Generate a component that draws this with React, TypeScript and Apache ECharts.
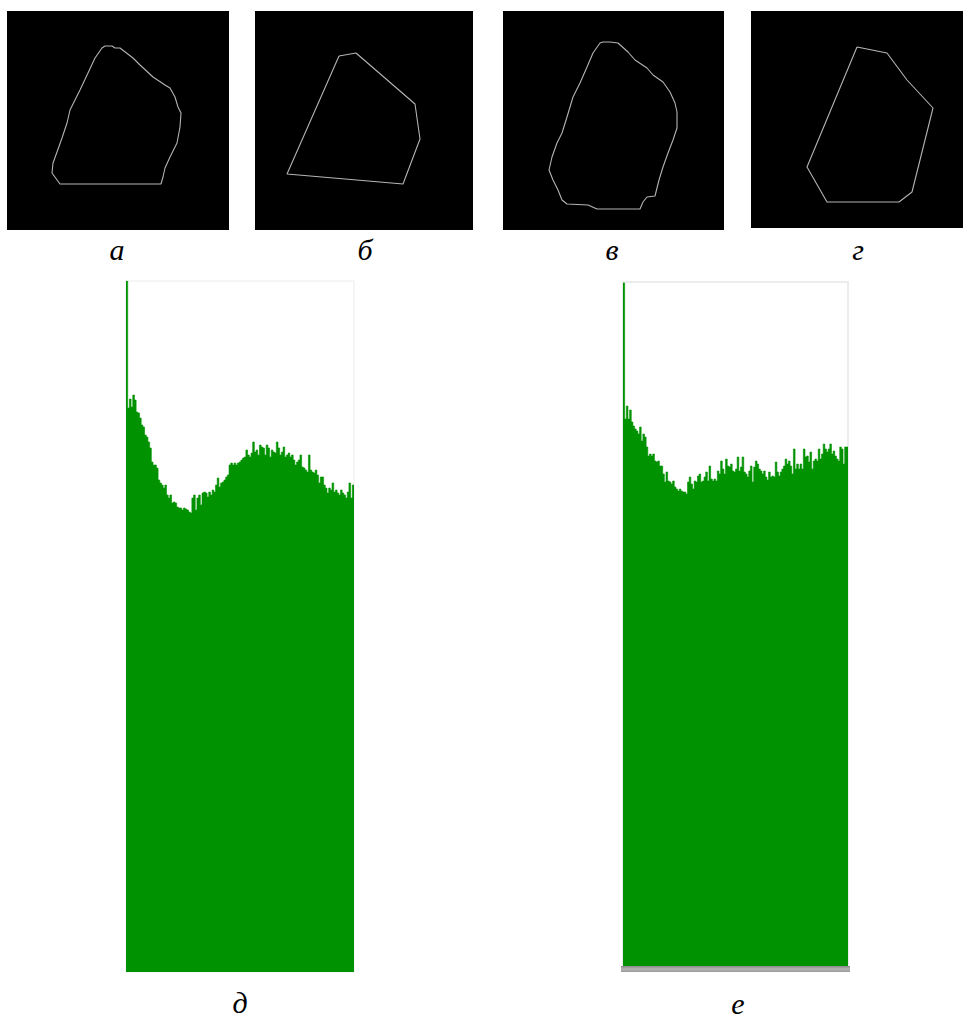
import React, { useEffect, useRef } from "react";
import * as echarts from "echarts";

// Contours (panel-local pixel coordinates)
const contourA = [[98,35],[105,35],[108,37],[113,37],[126,47],[133,54],[146,66],[158,74],[163,77],[168,86],[171,96],[174,102],[173,116],[170,132],[163,146],[158,157],[156,166],[154,173],[53,173],[45,162],[46,152],[50,141],[55,127],[60,112],[63,99],[73,79],[81,62],[88,47],[95,37],[98,35]];
const contourB = [[84,45],[101,42],[160,93],[165,128],[148,173],[32,163],[84,45]];
const contourV = [[100,31],[107,31],[115,32],[125,41],[132,49],[144,57],[150,64],[160,71],[167,81],[172,92],[174,101],[174,117],[170,129],[165,142],[160,156],[156,169],[152,185],[144,186],[140,191],[137,198],[94,198],[85,194],[64,193],[59,189],[55,179],[50,169],[46,159],[49,146],[54,132],[59,122],[64,106],[70,86],[77,72],[84,56],[90,42],[97,32],[100,31]];
const contourG = [[106,36],[136,42],[156,69],[182,97],[161,181],[148,191],[76,191],[56,156],[106,36]];

const panelLabels = ["а", "б", "в", "г"];
const histLabels = ["д", "е"];

// Histogram д (bin heights)
const histD = [691,
564,573,565,577,572,560,559,554,547,545,537,535,530,524,510,507,507,504,492,489,487,484,487,477,474,477,469,470,469,465,464,464,462,464,463,462,460,459,474,477,462,474,477,467,479,480,479,475,480,477,482,480,487,494,485,489,490,492,495,497,507,509,507,509,507,
509,510,512,514,515,522,517,515,519,530,520,522,517,527,525,524,517,527,524,515,522,520,519,530,524,517,520,525,515,517,519,515,517,512,507,510,512,517,505,504,502,500,517,502,500,499,502,497,489,495,495,487,484,479,484,482,489,480,482,479,477,482,479,477,474,480,489,474,487];

// Histogram е (bin heights)
const histE = [683,
547,560,547,556,544,540,537,535,532,539,525,532,529,519,510,512,510,512,505,504,505,500,500,492,484,494,485,484,482,485,479,477,475,477,475,474,474,472,484,489,482,477,485,484,490,492,484,485,489,494,485,500,487,485,487,485,495,492,505,497,492,507,500,499,502,495,494,
497,509,495,499,509,494,492,489,495,500,484,499,505,502,497,495,492,495,489,486,494,489,490,489,504,494,490,494,497,500,507,502,505,500,492,517,497,502,497,502,497,517,509,510,504,514,497,505,507,505,517,507,512,522,517,514,517,522,512,515,510,507,505,519,517,502,519,519];

const panels = [
  { pts: contourA, left: 7, top: 11, w: 222, h: 219, lx: 117, label: panelLabels[0] },
  { pts: contourB, left: 255, top: 11, w: 218, h: 219, lx: 365, label: panelLabels[1] },
  { pts: contourV, left: 503, top: 11, w: 221, h: 219, lx: 612, label: panelLabels[2] },
  { pts: contourG, left: 751, top: 11, w: 212, h: 217, lx: 858, label: panelLabels[3] },
];

export default function App() {
  const ref = useRef<HTMLDivElement>(null);
  useEffect(() => {
    if (!ref.current) return;
    const chart = echarts.init(ref.current, undefined, { renderer: "svg" });
    const grid: any[] = [];
    const xAxis: any[] = [];
    const yAxis: any[] = [];
    const series: any[] = [];
    const graphic: any[] = [];
    const labelStyle = { fontFamily: "Liberation Serif", fontStyle: "italic", fontSize: 30, fill: "#000", align: "center", verticalAlign: "middle" };

    panels.forEach((p, i) => {
      grid.push({ left: p.left, top: p.top, width: p.w, height: p.h, show: true, backgroundColor: "#000", borderWidth: 0 });
      xAxis.push({ type: "value", gridIndex: i, min: 0, max: p.w, show: false });
      yAxis.push({ type: "value", gridIndex: i, min: 0, max: p.h, inverse: true, show: false });
      series.push({
        type: "line", xAxisIndex: i, yAxisIndex: i, data: p.pts, showSymbol: false, symbol: "none",
        lineStyle: { color: "#b4b4b4", width: 1.1 }, silent: true,
      });
      graphic.push({
        type: "text", x: p.lx, y: 249,
        style: { ...labelStyle, text: p.label },
      });
    });

    const hists = [
      { data: histD, left: 126, top: 281, w: 228, h: 691, max: 691, lx: 240, ly: 1002, border: 1 },
      { data: histE, left: 623, top: 282, w: 225, h: 684, max: 684, lx: 738, ly: 1003, border: 2 },
    ];
    hists.forEach((hst, j) => {
      const gi = 4 + j;
      const n = hst.data.length;
      // stepped outline: bin k spans [k, k+1)
      const stepData = hst.data.map((v, k) => [k, v]).concat([[n, hst.data[n - 1]]]);
      grid.push({ left: hst.left, top: hst.top, width: hst.w, height: hst.h, show: true, backgroundColor: "#fff", borderColor: "#ececec", borderWidth: hst.border });
      xAxis.push({
        type: "value", gridIndex: gi, min: 0, max: n,
        axisLine: { show: false }, axisTick: { show: false }, axisLabel: { show: false }, splitLine: { show: false },
      });
      yAxis.push({ type: "value", gridIndex: gi, min: 0, max: hst.max, show: false, splitLine: { show: false } });
      series.push({
        type: "line", xAxisIndex: gi, yAxisIndex: gi, data: stepData, step: "end", showSymbol: false, symbol: "none",
        lineStyle: { color: "#009200", width: 0.6 }, areaStyle: { color: "#009200", opacity: 1 }, silent: true,
      });
      graphic.push({
        type: "text", x: hst.lx, y: hst.ly,
        style: { ...labelStyle, text: histLabels[j] },
      });
    });
    graphic.push({
      type: "rect", shape: { x: 621, y: 966, width: 229, height: 6 },
      style: {
        fill: new echarts.graphic.LinearGradient(0, 0, 0, 1, [
          { offset: 0, color: "#8a8a8a" }, { offset: 0.5, color: "#b5b5b5" }, { offset: 1, color: "#9a9a9a" },
        ]),
      },
    });

    chart.setOption({ animation: false, backgroundColor: "#fff", grid, xAxis, yAxis, series, graphic });
    return () => chart.dispose();
  }, []);
  return <div ref={ref} style={{ position: "absolute", left: 0, top: 0, width: 965, height: 1018 }} />;
}
